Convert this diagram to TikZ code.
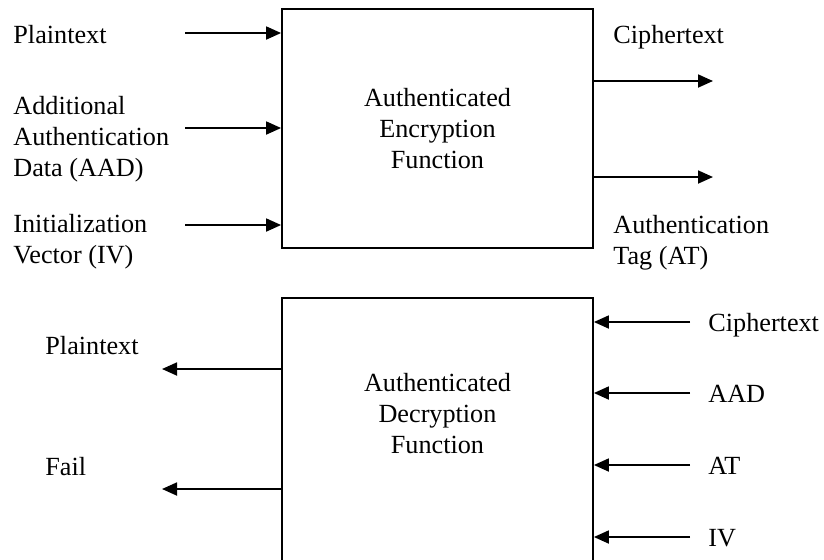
\documentclass[tikz,border=0pt]{standalone}
\usepackage{fontspec}
\setmainfont{Liberation Serif}
\usetikzlibrary{positioning,arrows.meta}

\begin{document}
\begin{tikzpicture}[
        x=0.5pt, y=-0.5pt,
        font=\fontsize{13.1pt}{15.6pt}\selectfont,
        fn/.style={
            draw,
            line width=0.9pt,
            align=center,
            minimum width=155.5pt,
            minimum height=119.5pt
        },
        lbl/.style={inner sep=0pt, align=left},
        sig/.style={-{Triangle[length=7.5pt, width=6.5pt]}, line width=0.9pt}
    ]
    \useasboundingbox (0,0) rectangle (824,559);
    \clip (0,0) rectangle (824,559);

    % encryption side
    \node[fn] (E) at (437.5,128.5) {Authenticated\\Encryption\\Function};

    \coordinate (ptin) at (185,33);
    \coordinate (aadin) at (185,128);
    \coordinate (ivin) at (185,225);
    \coordinate (ctout) at (713,81);
    \coordinate (atout) at (713,177);

    \node[lbl, anchor=base west] (PT) at (13,43) {Plaintext};
    \node[lbl, anchor=north west] (AAD) at (13,96) {Additional\\Authentication\\Data (AAD)};
    \node[lbl, anchor=north west] (IV) at (13,214) {Initialization\\Vector (IV)};
    \node[lbl, anchor=base west] (CT) at (613,43) {Ciphertext};
    \node[lbl, anchor=north west] (AT) at (613,215) {Authentication\\Tag (AT)};

    \draw[sig] (ptin) -- (ptin -| E.west);
    \draw[sig] (aadin) -- (aadin -| E.west);
    \draw[sig] (ivin) -- (ivin -| E.west);
    \draw[sig] (ctout -| E.east) -- (ctout);
    \draw[sig] (atout -| E.east) -- (atout);

    % decryption side
    \node[fn, minimum height=160pt, anchor=north] (D) at (437.5,297) {};
    \node[align=center, inner sep=0pt] (Dt) at (437.5,413.5) {Authenticated\\Decryption\\Function};

    \coordinate (ptout) at (162,369);
    \coordinate (failout) at (162,489);
    \coordinate (ctin) at (690,322);
    \coordinate (aadin2) at (690,393);
    \coordinate (atin) at (690,465);
    \coordinate (ivin2) at (690,537);

    \node[lbl, anchor=base west] (PT2) at (45,354) {Plaintext};
    \node[lbl, anchor=base west] (FL) at (45,475) {Fail};
    \node[lbl, anchor=base west] (CT2) at (708,331) {Ciphertext};
    \node[lbl, anchor=base west] (AAD2) at (708,402) {AAD};
    \node[lbl, anchor=base west] (AT2) at (708,474) {AT};
    \node[lbl, anchor=base west] (IV2) at (708,546) {IV};

    \draw[sig] (ptout -| D.west) -- (ptout);
    \draw[sig] (failout -| D.west) -- (failout);
    \draw[sig] (ctin) -- (ctin -| D.east);
    \draw[sig] (aadin2) -- (aadin2 -| D.east);
    \draw[sig] (atin) -- (atin -| D.east);
    \draw[sig] (ivin2) -- (ivin2 -| D.east);
\end{tikzpicture}
\end{document}
